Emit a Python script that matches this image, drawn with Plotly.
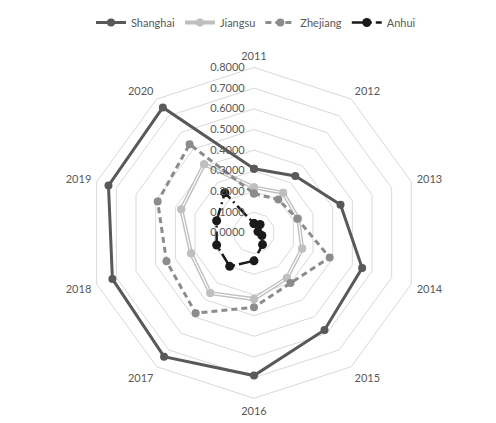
import plotly.graph_objects as go

years = ["2011", "2012", "2013", "2014", "2015", "2016", "2017", "2018", "2019", "2020"]
shanghai = [0.31, 0.34, 0.44, 0.55, 0.58, 0.69, 0.74, 0.72, 0.74, 0.75]
jiangsu = [0.22, 0.24, 0.225, 0.245, 0.27, 0.32, 0.36, 0.32, 0.37, 0.41]
zhejiang = [0.19, 0.20, 0.22, 0.385, 0.30, 0.36, 0.48, 0.445, 0.49, 0.53]
anhui = [0.045, 0.05, 0.02, 0.04, 0.07, 0.135, 0.20, 0.19, 0.19, 0.24]

radial_ticks = [0.0, 0.1, 0.2, 0.3, 0.4, 0.5, 0.6, 0.7, 0.8]


def closed(v):
    return list(v) + [v[0]]


theta = closed(years)
FONT = "Lato"

fig = go.Figure()

fig.add_trace(go.Scatterpolar(
    r=closed(shanghai), theta=theta, name="Shanghai", mode="lines+markers",
    line=dict(color="#595959", width=3), marker=dict(color="#595959", size=8)))

# Jiangsu: double line effect
fig.add_trace(go.Scatterpolar(
    r=closed(jiangsu), theta=theta, name="Jiangsu", mode="lines+markers",
    legendgroup="js",
    line=dict(color="#BFBFBF", width=4), marker=dict(color="#BFBFBF", size=8)))
fig.add_trace(go.Scatterpolar(
    r=closed(jiangsu), theta=theta, name="Jiangsu", mode="lines", showlegend=False,
    legendgroup="js", hoverinfo="skip",
    line=dict(color="white", width=1.2)))
fig.add_trace(go.Scatterpolar(
    r=closed(jiangsu), theta=theta, name="Jiangsu", mode="markers", showlegend=False,
    legendgroup="js",
    marker=dict(color="#BFBFBF", size=8)))

fig.add_trace(go.Scatterpolar(
    r=closed(zhejiang), theta=theta, name="Zhejiang", mode="lines+markers",
    line=dict(color="#8C8C8C", width=3, dash="6px,4px"), marker=dict(color="#8C8C8C", size=8)))

fig.add_trace(go.Scatterpolar(
    r=closed(anhui), theta=theta, name="Anhui", mode="lines+markers",
    line=dict(color="#1A1A1A", width=2.5, dash="14px,4px,2px,4px"),
    marker=dict(color="#1A1A1A", size=9)))

x0, x1 = 79, 413
y0, y1 = 56, 390

fig.update_layout(
    width=496, height=423,
    margin=dict(l=0, r=0, t=0, b=0),
    paper_bgcolor="white", plot_bgcolor="white",
    font=dict(family=FONT, size=11, color="#595959"),
    showlegend=True,
    legend=dict(orientation="h", x=0.5, xanchor="center", y=1.01, yanchor="top",
                font=dict(family=FONT, size=11, color="#595959"),
                itemwidth=30, tracegroupgap=0),
    polar=dict(
        domain=dict(x=[x0/496, x1/496], y=[1-y1/423, 1-y0/423]),
        bgcolor="white",
        gridshape="linear",
        radialaxis=dict(
            range=[0, 0.8], tickvals=radial_ticks, tickformat=".4f",
            angle=90, tickangle=90, side="counterclockwise",
            showline=False, ticks="outside", ticklen=5, tickcolor="rgba(0,0,0,0)",
            gridcolor="#D9D9D9", gridwidth=1,
            tickfont=dict(family=FONT, size=11, color="#595959")),
        angularaxis=dict(
            direction="clockwise", rotation=90, categoryarray=years, type="category",
            showgrid=False, showline=True, linecolor="#D9D9D9", linewidth=1,
            ticks="outside", ticklen=3, tickcolor="rgba(0,0,0,0)",
            tickfont=dict(family=FONT, size=11, color="#595959")),
    ),
)

fig.write_html("out.html")
